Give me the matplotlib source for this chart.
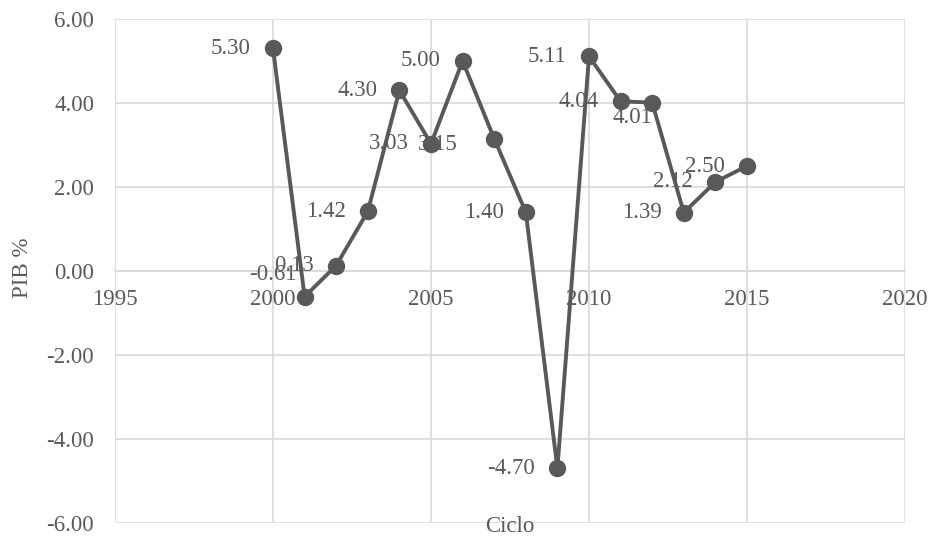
import matplotlib.pyplot as plt
from matplotlib.ticker import FormatStrFormatter

# Data
years = [2000, 2001, 2002, 2003, 2004, 2005, 2006, 2007,
         2008, 2009, 2010, 2011, 2012, 2013, 2014, 2015]
pib = [5.30, -0.61, 0.13, 1.42, 4.30, 3.03, 5.00, 3.15,
       1.40, -4.70, 5.11, 4.04, 4.01, 1.39, 2.12, 2.50]

# label offsets in points (most sit left of the marker)
label_offsets = [(-16, 0), (-6, 16), (-16, 0), (-16, 0), (-16, 0), (-16, 0), (-16, 0), (-26, -4),
                 (-16, 0), (-16, 0), (-16, 0), (-16, 0), (0, -11), (-16, 0), (-16, 0), (-16, 0)]

grey = '#595959'
grid_c = '#d9d9d9'
font = ['Liberation Serif', 'DejaVu Serif']
fs = 16.5

plt.rcParams['font.family'] = font
plt.rcParams['font.size'] = fs

fig = plt.figure(figsize=(9.3, 5.38), dpi=100)
ax = fig.add_axes([115 / 930, 1 - 523 / 538, 790 / 930, 504 / 538])

ax.plot(years, pib, color=grey, lw=2.8, marker='o', markersize=11.5, zorder=3)

for x, y, off in zip(years, pib, label_offsets):
    ax.annotate(f'{y:.2f}', (x, y), xytext=off, textcoords='offset points',
                ha='right', va='center', color=grey, fontsize=fs, zorder=4)

ax.set_xlim(1995, 2020)
ax.set_ylim(-6, 6)
ax.set_xticks(range(1995, 2021, 5))
ax.set_yticks(range(-6, 7, 2))
ax.yaxis.set_major_formatter(FormatStrFormatter('%.2f'))

ax.grid(True, color=grid_c, lw=1.2, zorder=0)
ax.set_axisbelow(True)
for s in ['top', 'right', 'left']:
    ax.spines[s].set_visible(False)
ax.spines['bottom'].set_position(('data', 0))
ax.spines['bottom'].set_color(grid_c)
ax.spines['bottom'].set_linewidth(1.2)

ax.tick_params(axis='both', length=0, colors=grey, labelsize=fs)
ax.tick_params(axis='y', pad=15)
ax.tick_params(axis='x', pad=13)

ax.text(0.5, -0.007, 'Ciclo', transform=ax.transAxes, ha='center', va='center',
        color=grey, fontsize=fs)
fig.text(22 / 930, 1 - 268 / 538, 'PIB %', rotation=90, ha='center', va='center',
         color=grey, fontsize=fs)

plt.savefig('out.png', dpi=100)
